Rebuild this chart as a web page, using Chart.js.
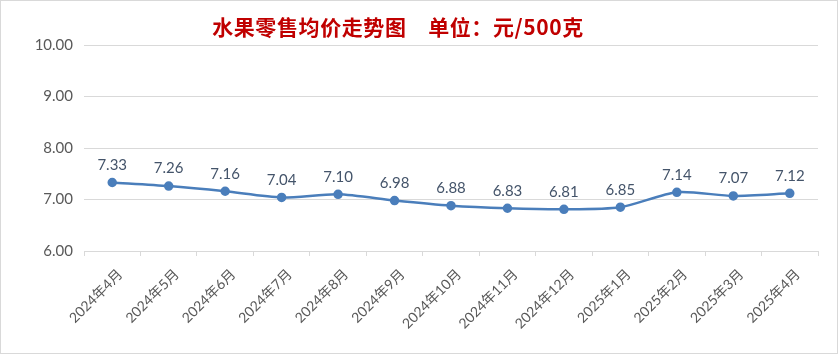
<!DOCTYPE html>
<html>
<head>
<meta charset="utf-8">
<script src="https://cdn.jsdelivr.net/npm/chart.js@4"></script>
<style>
  html, body { margin: 0; padding: 0; background: #fff; }
  #wrap { width: 838px; height: 354px; }
</style>
</head>
<body>
<div id="wrap"><canvas id="chart" width="838" height="354"></canvas></div>
<script>
const months = ["2024年4月", "2024年5月", "2024年6月", "2024年7月", "2024年8月", "2024年9月", "2024年10月",
  "2024年11月", "2024年12月", "2025年1月", "2025年2月", "2025年3月", "2025年4月"];
const prices = [7.33, 7.26, 7.16, 7.04, 7.10, 6.98, 6.88, 6.83, 6.81, 6.85, 7.14, 7.07, 7.12];
const yTicks = [6, 7, 8, 9, 10];
const titleText = "水果零售均价走势图　单位：元/500克";

const baseFont = "Lato, 'Noto Sans CJK SC', sans-serif";

// frame, title and point labels
const decor = {
  id: "decor",
  afterDraw(chart) {
    const ctx = chart.ctx;
    ctx.save();
    ctx.strokeStyle = "#d9d9d9";
    ctx.lineWidth = 1;
    ctx.strokeRect(0.5, 0.5, chart.width - 1, chart.height - 1);

    ctx.fillStyle = "#c00000";
    ctx.font = "bold 21px 'Noto Sans CJK SC', sans-serif";
    ctx.letterSpacing = "0.6px";
    ctx.textAlign = "center";
    ctx.textBaseline = "middle";
    ctx.fillText(titleText, 398, 27);
    ctx.letterSpacing = "0px";

    ctx.fillStyle = "#44546a";
    ctx.font = "15px " + baseFont;
    ctx.textBaseline = "bottom";
    chart.getDatasetMeta(0).data.forEach((pt, i) => {
      ctx.fillText(prices[i].toFixed(2), pt.x, pt.y - 10);
    });
    ctx.restore();
  }
};

new Chart(document.getElementById("chart"), {
  type: "line",
  data: {
    labels: months,
    datasets: [{
      data: prices,
      borderColor: "#4a7ebb",
      backgroundColor: "#4a7ebb",
      borderWidth: 2.5,
      pointRadius: 3.5,
      pointHoverRadius: 3.5,
      tension: 0.25
    }]
  },
  options: {
    responsive: false,
    animation: false,
    layout: { padding: { top: 45, right: 20, bottom: 0, left: 0 } },
    plugins: { legend: { display: false }, tooltip: { enabled: false } },
    scales: {
      x: {
        offset: true,
        afterFit: (s) => { s.height = 103; },
        grid: { display: true, drawOnChartArea: false, drawTicks: true, tickLength: 5, offset: true, color: "#d9d9d9" },
        border: { color: "#d9d9d9" },
        ticks: {
          minRotation: 45, maxRotation: 45, autoSkip: false, labelOffset: 8,
          color: "#595959", font: { size: 14, family: baseFont }, padding: 10
        }
      },
      y: {
        min: 6, max: 10,
        afterFit: (s) => { s.width = 84; },
        afterBuildTicks: (s) => { s.ticks = yTicks.map(v => ({ value: v })); },
        grid: { color: "#d9d9d9", drawTicks: false },
        border: { display: false },
        ticks: {
          color: "#595959", font: { size: 15, family: baseFont }, padding: 11,
          callback: (v) => Number(v).toFixed(2)
        }
      }
    }
  },
  plugins: [decor]
});
</script>
</body>
</html>
